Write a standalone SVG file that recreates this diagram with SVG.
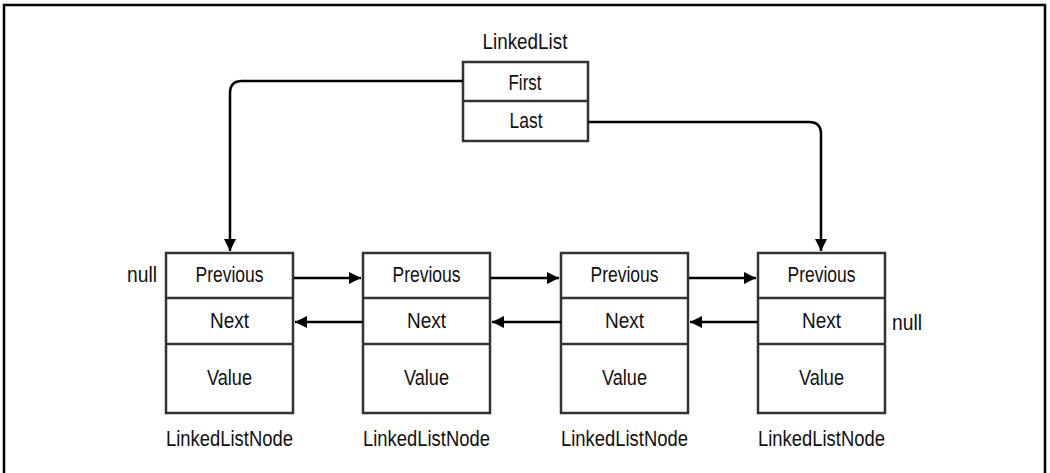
<svg xmlns="http://www.w3.org/2000/svg" width="1050" height="473" viewBox="0 0 1050 473">
<style>
  .box{fill:#fff;stroke:#333;stroke-width:2.5}
  .div{stroke:#333;stroke-width:2.5}
  .t{font-family:"Liberation Sans",Arial,sans-serif;font-size:22px;fill:#111;text-anchor:middle}
  .tl{font-family:"Liberation Sans",Arial,sans-serif;font-size:22px;fill:#111}
  .c{fill:none;stroke:#000;stroke-width:2.5}
</style>
<defs>
  <marker id="ah" viewBox="0 0 10 10" refX="10" refY="5" markerWidth="12" markerHeight="12" markerUnits="userSpaceOnUse" orient="auto">
    <path d="M0,0 L10,5 L0,10 Z" fill="#000"/>
  </marker>
</defs>
<rect x="0" y="0" width="1050" height="473" fill="#fff"/>
<path d="M4,480 V5 H1045 V480" fill="none" stroke="#000" stroke-width="2.5"/>

<g id="linkedlist">
  <text class="t" x="525" y="49" textLength="85" lengthAdjust="spacingAndGlyphs">LinkedList</text>
  <rect class="box" x="463" y="62" width="125" height="79"/>
  <line class="div" x1="463" y1="101" x2="588" y2="101"/>
  <text class="t" x="525" y="90" textLength="33" lengthAdjust="spacingAndGlyphs">First</text>
  <text class="t" x="526" y="128" textLength="33" lengthAdjust="spacingAndGlyphs">Last</text>
</g>

<g id="node1">
  <rect class="box" x="166" y="253" width="127" height="160"/>
  <line class="div" x1="166" y1="298" x2="293" y2="298"/>
  <line class="div" x1="166" y1="344" x2="293" y2="344"/>
  <text class="t" x="229.5" y="282" textLength="68" lengthAdjust="spacingAndGlyphs">Previous</text>
  <text class="t" x="229.5" y="328" textLength="39" lengthAdjust="spacingAndGlyphs">Next</text>
  <text class="t" x="229.5" y="385" textLength="45" lengthAdjust="spacingAndGlyphs">Value</text>
  <text class="t" x="229.5" y="446" textLength="127" lengthAdjust="spacingAndGlyphs">LinkedListNode</text>
</g>
<g id="node2">
  <rect class="box" x="363" y="253" width="127" height="160"/>
  <line class="div" x1="363" y1="298" x2="490" y2="298"/>
  <line class="div" x1="363" y1="344" x2="490" y2="344"/>
  <text class="t" x="426.5" y="282" textLength="68" lengthAdjust="spacingAndGlyphs">Previous</text>
  <text class="t" x="426.5" y="328" textLength="39" lengthAdjust="spacingAndGlyphs">Next</text>
  <text class="t" x="426.5" y="385" textLength="45" lengthAdjust="spacingAndGlyphs">Value</text>
  <text class="t" x="426.5" y="446" textLength="127" lengthAdjust="spacingAndGlyphs">LinkedListNode</text>
</g>
<g id="node3">
  <rect class="box" x="561" y="253" width="127" height="160"/>
  <line class="div" x1="561" y1="298" x2="688" y2="298"/>
  <line class="div" x1="561" y1="344" x2="688" y2="344"/>
  <text class="t" x="624.5" y="282" textLength="68" lengthAdjust="spacingAndGlyphs">Previous</text>
  <text class="t" x="624.5" y="328" textLength="39" lengthAdjust="spacingAndGlyphs">Next</text>
  <text class="t" x="624.5" y="385" textLength="45" lengthAdjust="spacingAndGlyphs">Value</text>
  <text class="t" x="624.5" y="446" textLength="127" lengthAdjust="spacingAndGlyphs">LinkedListNode</text>
</g>
<g id="node4">
  <rect class="box" x="758" y="253" width="127" height="160"/>
  <line class="div" x1="758" y1="298" x2="885" y2="298"/>
  <line class="div" x1="758" y1="344" x2="885" y2="344"/>
  <text class="t" x="821.5" y="282" textLength="68" lengthAdjust="spacingAndGlyphs">Previous</text>
  <text class="t" x="821.5" y="328" textLength="39" lengthAdjust="spacingAndGlyphs">Next</text>
  <text class="t" x="821.5" y="385" textLength="45" lengthAdjust="spacingAndGlyphs">Value</text>
  <text class="t" x="821.5" y="446" textLength="127" lengthAdjust="spacingAndGlyphs">LinkedListNode</text>
</g>
<g id="null-labels">
  <text class="tl" x="127" y="282" textLength="30" lengthAdjust="spacingAndGlyphs">null</text>
  <text class="tl" x="892" y="330" textLength="30" lengthAdjust="spacingAndGlyphs">null</text>
</g>

<g id="connectors">
  <path class="c" d="M463,81 H242 Q230,81 230,93 V251" marker-end="url(#ah)"/>
  <path class="c" d="M588,122 H809 Q821,122 821,134 V251" marker-end="url(#ah)"/>
  <line class="c" x1="294" y1="278" x2="361" y2="278" marker-end="url(#ah)"/>
  <line class="c" x1="491" y1="278" x2="559" y2="278" marker-end="url(#ah)"/>
  <line class="c" x1="689" y1="278" x2="756" y2="278" marker-end="url(#ah)"/>
  <line class="c" x1="363" y1="322" x2="295" y2="322" marker-end="url(#ah)"/>
  <line class="c" x1="561" y1="322" x2="492" y2="322" marker-end="url(#ah)"/>
  <line class="c" x1="758" y1="322" x2="690" y2="322" marker-end="url(#ah)"/>
</g>
</svg>
